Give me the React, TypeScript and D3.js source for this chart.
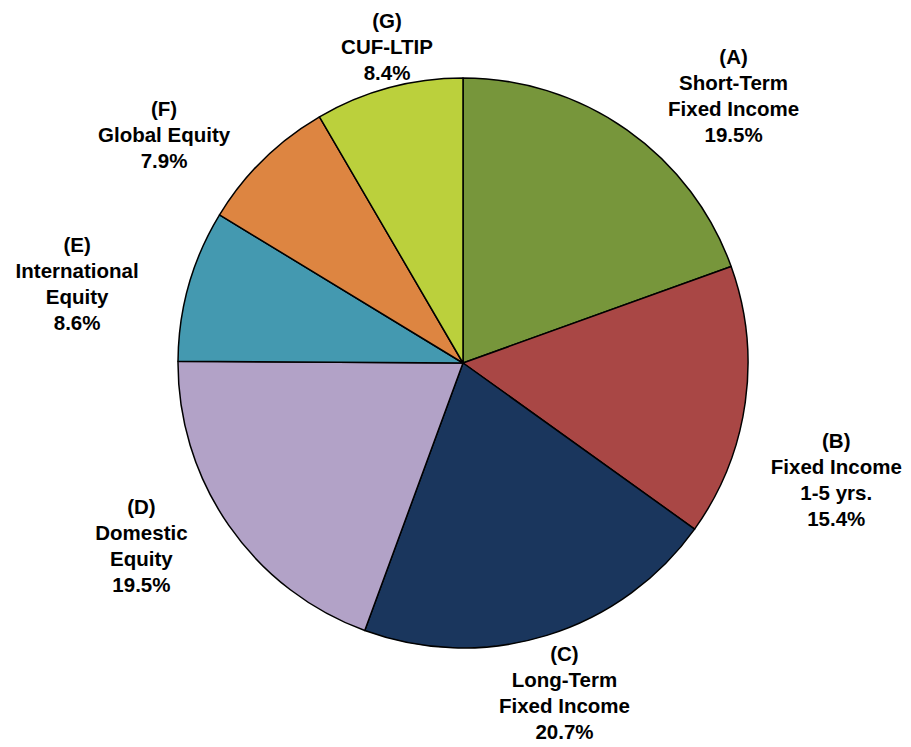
import React, { useEffect, useRef } from 'react';
import * as d3 from 'd3';

// slice data, clockwise from 12 o'clock
const codes = ['(A)', '(B)', '(C)', '(D)', '(E)', '(F)', '(G)'];
const names = [
  ['Short-Term', 'Fixed Income'],
  ['Fixed Income', '1-5 yrs.'],
  ['Long-Term', 'Fixed Income'],
  ['Domestic', 'Equity'],
  ['International', 'Equity'],
  ['Global Equity'],
  ['CUF-LTIP'],
];
const shares = [19.5, 15.4, 20.7, 19.5, 8.6, 7.9, 8.4];
const colors = ['#77963B', '#A94745', '#1A365D', '#B2A2C7', '#4499B0', '#DD8541', '#BBD03C'];

// label placement: nudge from slice mid angle (deg) and distance from centre
const labelNudge = [10.3, 9.4, 0, 5.1, -4.2, -8.2, 1.6];
const labelDist = [380, 391, 345, 370, 394, 376, 325];

const W = 911;
const H = 747;

export default function App() {
  const svgRef = useRef<SVGSVGElement>(null);

  useEffect(() => {
    document.body.style.margin = '0';
    if (!svgRef.current) return;
    const svg = d3.select(svgRef.current);
    svg.selectAll('*').remove();

    const cx = 463;
    const cy = 363;
    const r = 285;

    const pie = d3.pie<number>().sort(null).value(d => d);
    const arcs = pie(shares);
    const arc = d3.arc<d3.PieArcDatum<number>>().innerRadius(0).outerRadius(r);

    const g = svg.append('g').attr('transform', `translate(${cx},${cy})`);

    g.selectAll('path.slice')
      .data(arcs)
      .enter()
      .append('path')
      .attr('class', 'slice')
      .attr('d', arc)
      .attr('fill', (_, i) => colors[i])
      .attr('stroke', '#000')
      .attr('stroke-width', 1.5)
      .attr('stroke-linejoin', 'round');

    const lineH = 26;
    const labels = g.selectAll('g.label')
      .data(arcs)
      .enter()
      .append('g')
      .attr('class', 'label')
      .attr('transform', (d, i) => {
        const a = (d.startAngle + d.endAngle) / 2 + (labelNudge[i] * Math.PI) / 180;
        const x = labelDist[i] * Math.sin(a);
        const y = -labelDist[i] * Math.cos(a);
        return `translate(${x},${y})`;
      });

    labels.each(function (_, i) {
      const lines = [codes[i], ...names[i], `${shares[i].toFixed(1)}%`];
      const t = d3.select(this).append('text')
        .attr('text-anchor', 'middle')
        .style('font-family', 'Arial, "Liberation Sans", sans-serif')
        .style('font-weight', 'bold')
        .style('font-size', '20.5px')
        .attr('fill', '#000');
      const top = -((lines.length - 1) * lineH) / 2;
      lines.forEach((ln, k) => {
        t.append('tspan')
          .attr('x', 0)
          .attr('y', top + k * lineH)
          .attr('dy', '0.35em')
          .text(ln);
      });
    });
  }, []);

  return (
    <svg ref={svgRef} width={W} height={H} style={{ display: 'block', background: '#fff' }} />
  );
}
